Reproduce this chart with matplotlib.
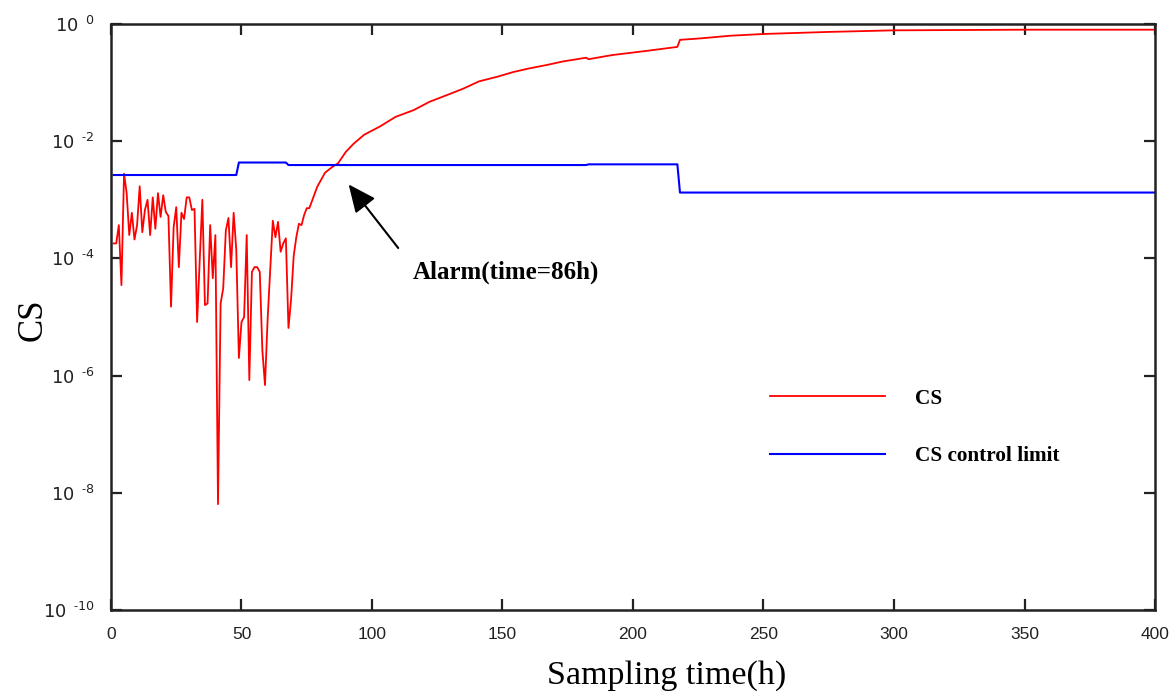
import matplotlib.pyplot as plt
import numpy as np
from matplotlib.lines import Line2D

plt.rcParams["mathtext.fontset"] = "custom"
plt.rcParams["mathtext.rm"] = "Liberation Sans"
plt.rcParams["mathtext.it"] = "Liberation Sans:italic"

# CS statistic, hourly samples 1..76 (noisy before the fault shows up)
cs_early = [
    1.8e-4, 1.8e-4, 3.7e-4, 3.5e-5, 2.8e-3, 1.3e-3, 2.5e-4, 6.0e-4, 2.1e-4, 3.7e-4,
    1.7e-3, 2.8e-4, 6.7e-4, 1.0e-3, 2.5e-4, 1.1e-3, 3.2e-4, 1.3e-3, 5.1e-4, 1.2e-3,
    6.2e-4, 5.3e-4, 1.5e-5, 3.4e-4, 7.5e-4, 7.1e-5, 6.0e-4, 4.7e-4, 1.1e-3, 1.1e-3,
    6.7e-4, 7.0e-4, 8.2e-6, 9.4e-5, 1.0e-3, 1.6e-5, 1.7e-5, 3.7e-4, 4.6e-5, 2.5e-4,
    6.4e-9, 1.7e-5, 3.1e-5, 3.0e-4, 4.9e-4, 7.1e-5, 6.0e-4, 1.4e-4, 2.0e-6, 8.2e-6,
    1.0e-5, 2.5e-4, 8.4e-7, 5.9e-5, 7.1e-5, 7.1e-5, 5.9e-5, 2.7e-6, 6.9e-7, 8.9e-6,
    6.3e-5, 4.4e-4, 2.3e-4, 4.2e-4, 1.3e-4, 1.8e-4, 2.2e-4, 6.5e-6, 2.0e-5, 1.1e-4,
    2.3e-4, 3.9e-4, 3.7e-4, 5.5e-4, 7.2e-4, 7.2e-4,
]
hours_early = np.arange(1, len(cs_early) + 1)

# CS after the fault
hours_late = [79, 82, 85, 87, 90, 93, 97, 103, 109, 116, 122, 129, 135, 141, 148,
              154, 160, 167, 173, 182, 183, 192, 205, 217, 218, 226, 237, 250,
              275, 300, 350, 400]
cs_late = [1.66e-3, 2.9e-3, 3.7e-3, 4.2e-3, 6.6e-3, 9.1e-3, 1.29e-2, 1.78e-2,
           2.6e-2, 3.4e-2, 4.7e-2, 6.2e-2, 7.9e-2, 0.105, 0.126, 0.151, 0.174,
           0.20, 0.229, 0.266, 0.251, 0.295, 0.347, 0.407, 0.537, 0.569, 0.63,
           0.676, 0.733, 0.78, 0.80, 0.80]

# control limit (piecewise constant)
limit_hours = [1, 48, 49, 67, 68, 182, 183, 217, 218, 400]
limit_vals = [2.65e-3, 2.65e-3, 4.33e-3, 4.33e-3, 3.92e-3, 3.92e-3,
              4.03e-3, 4.03e-3, 1.33e-3, 1.33e-3]

y_exps = [0, -2, -4, -6, -8, -10]
x_ticks = [0, 50, 100, 150, 200, 250, 300, 350, 400]

hours = np.concatenate([hours_early, hours_late])
cs = np.concatenate([cs_early, cs_late])

fig = plt.figure(figsize=(11.72, 6.92), dpi=100)
ax = fig.add_axes([0.0947, 0.1185, 0.8908, 0.8468])

ax.plot(hours, cs, color="#ff0000", lw=1.3)
ax.plot(limit_hours, limit_vals, color="#0000ff", lw=1.5)

ax.set_yscale("log")
ax.set_xlim(0, 400)
ax.set_ylim(1e-10, 1)
ax.set_xticks(x_ticks)
ax.set_xticklabels([str(t) for t in x_ticks], family="Liberation Sans", fontsize=12.5)


def exp_label(e):
    if e < 0:
        return r"$\mathregular{10^{\ \ \text{-}%d}}$" % (-e)
    return r"$\mathregular{10^{\ \ %d}}$" % e


ax.set_yticks([10.0 ** e for e in y_exps])
ax.set_yticklabels([exp_label(e) for e in y_exps], fontsize=13)
ax.minorticks_off()
ax.tick_params(direction="in", length=8, width=1.6, top=True, right=True,
               color="#222222", labelcolor="#222222")
ax.tick_params(axis="x", pad=12)
ax.tick_params(axis="y", pad=12)
for sp in ax.spines.values():
    sp.set_linewidth(1.8)
    sp.set_color("#222222")

ax.set_xlabel("Sampling time(h)", family="Liberation Serif", fontsize=24.5)
ax.xaxis.set_label_coords(0.5326, -0.085)
ax.set_ylabel("CS", family="Liberation Serif", fontsize=25)
ax.yaxis.set_label_coords(-0.059, 0.495)

ax.annotate("", xy=(90.4, 10 ** -2.70), xytext=(110.7, 10 ** -3.86),
            arrowprops=dict(arrowstyle="-|>,head_length=1.0,head_width=0.45",
                            color="black", lw=1.5, mutation_scale=17))
ax.text(115.5, 10 ** -4.23, "Alarm(time=86h)", family="Liberation Serif",
        fontweight="bold", fontsize=18, va="center", ha="left")

handles = [Line2D([], [], color="#ff0000", lw=1.3),
           Line2D([], [], color="#0000ff", lw=1.5)]
ax.legend(handles, ["CS", "CS control limit"], loc="upper left",
          bbox_to_anchor=(0.613, 0.41), frameon=False,
          prop={"family": "Liberation Serif", "weight": "bold", "size": 15.3},
          handlelength=5.4, handletextpad=1.4, labelspacing=1.75)

fig.savefig("out.png", dpi=100)
